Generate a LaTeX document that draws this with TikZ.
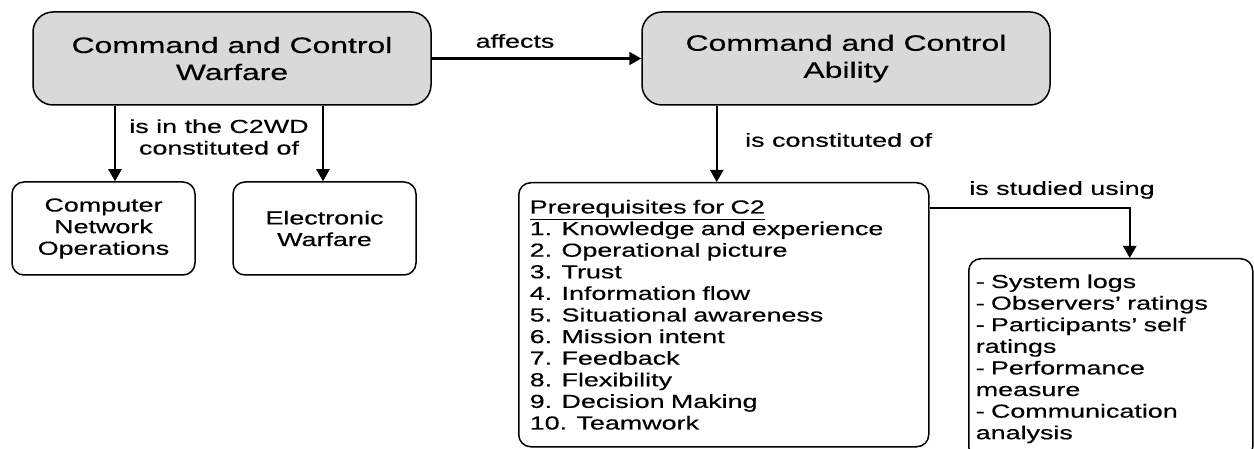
\documentclass[tikz,border=0pt]{standalone}
\usepackage{fontspec}
\setmainfont{Liberation Sans}[FakeStretch=1.43,FakeBold=0.4]
\usetikzlibrary{arrows.meta}
\definecolor{boxgray}{RGB}{217,217,217}
\newcommand\myBig{\fontsize{22.3}{27}\selectfont}
\newcommand\mySmall{\fontsize{18.8}{21.6}\selectfont}
\begin{document}
\begin{tikzpicture}[x=1pt,y=-1pt,
  bigbox/.style={draw=black, line width=1.5pt, fill=boxgray, rounded corners=20pt,
    minimum height=93pt, align=center, font=\myBig, inner sep=0pt},
  smallbox/.style={draw=black, line width=1.5pt, rounded corners=12pt,
    minimum width=183pt, minimum height=93pt, align=center, font=\mySmall, inner sep=0pt},
  listbox/.style={draw=black, line width=1.5pt, rounded corners=12pt, align=left,
    font=\mySmall, anchor=north west, inner xsep=11pt, inner ysep=0pt},
  lbl/.style={font=\mySmall, align=center, inner sep=0pt},
  arr/.style={line width=2.2pt, -{Triangle[length=12pt,width=13pt]}}]
\useasboundingbox (0,0) rectangle (1254,449);

\node[bigbox, minimum width=398pt] (b1) at (232,58.5) {Command and Control\\Warfare};
\node[bigbox, minimum width=408pt] (b2) at (846,58.5) {Command and Control\\Ability};

\node[smallbox] (cno) at (103.5,228.5) {Computer\\Network\\Operations};
\node[smallbox] (ew) at (324.5,228.5) {Electronic\\Warfare};

\node[listbox, text width=388pt, minimum height=264pt] (pre) at (518,182) {%
\underline{Prerequisites for C2}\\
1. Knowledge and experience\\
2. Operational picture\\
3. Trust\\
4. Information flow\\
5. Situational awareness\\
6. Mission intent\\
7. Feedback\\
8. Flexibility\\
9. Decision Making\\
10. Teamwork};

\node[listbox, text width=270pt, minimum height=200pt, inner xsep=7pt] (meth) at (968,258) {%
- System logs\\
- Observers’ ratings\\
- Participants’ self\\
ratings\\
- Performance\\
measure\\
- Communication\\
analysis};

\draw[arr] (b1) -- (b2);
\node[lbl] (laff) at (515,41) {affects};

\draw[arr] ([xshift=11.5pt]cno.north |- b1.south) -- ([xshift=11.5pt]cno.north);
\draw[arr] ([xshift=-1.5pt]ew.north |- b1.south) -- ([xshift=-1.5pt]ew.north);
\node[lbl] (lc2) at (219,137) {is in the C2WD\\constituted of};

\draw[arr] ([xshift=-7pt]pre.north |- b2.south) -- ([xshift=-7pt]pre.north);
\node[lbl, anchor=west] (lcon) at (745,140) {is constituted of};

\draw[arr] ([yshift=-26pt]pre.north east) -| ([xshift=19pt]meth.north);
\node[lbl] (lstud) at (1062,190) {is studied using};
\end{tikzpicture}
\end{document}
